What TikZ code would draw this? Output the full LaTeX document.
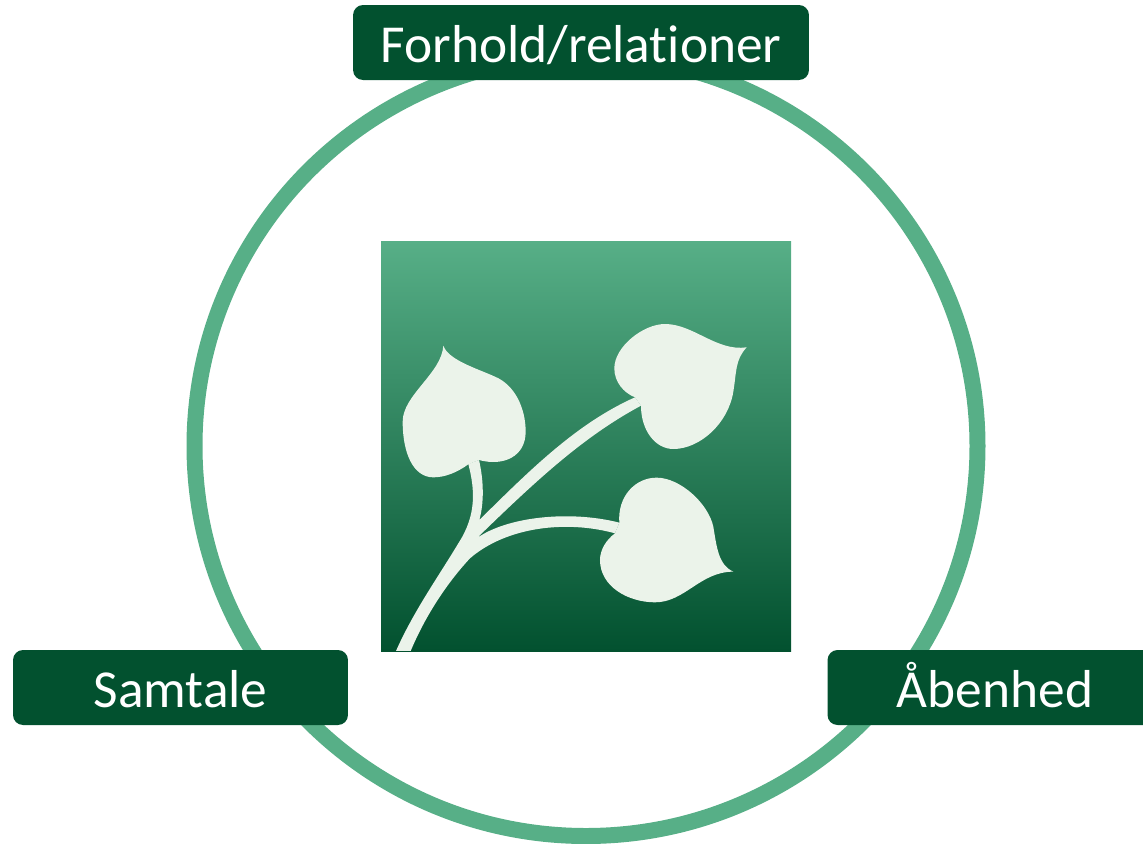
\documentclass[tikz,border=0pt]{standalone}
\usepackage{fontspec}
\setmainfont[Ligatures=NoCommon]{Carlito}
\definecolor{ringgreen}{HTML}{57AF87}
\definecolor{boxgreen}{HTML}{02512F}
\definecolor{leafwhite}{HTML}{EBF3EA}
\def\Cx{586}
\def\Cy{446}
\tikzset{
  labelbox/.style={fill=boxgreen, text=white, rounded corners=0.2cm, minimum height=1.5cm, inner sep=0pt, text height=1cm, text depth=0.2cm, font=\fontsize{30.4}{36}\selectfont},
  leaf/.style={fill=leafwhite, draw=none}
}

\begin{document}
\begin{tikzpicture}[x=0.02cm, y=-0.02cm]
\clip (0, 0) rectangle (1143, 843);

\draw[ringgreen, line width=0.32cm] (\Cx, \Cy) circle[x radius=391.5, y radius=390];

\shade[top color=ringgreen, bottom color=boxgreen] (381, 241) rectangle (791, 651);

% logo, traced in thirds of a pixel
\begin{scope}[shift={(380, 240)}, x=0.02cm/3, y=-0.02cm/3]
% stems
\fill[leaf] (48, 1233) .. controls (100, 1115) and (175, 1010) .. (235, 910)
  .. controls (290, 825) and (285, 750) .. (265, 672) -- (297, 660)
  .. controls (312, 725) and (312, 790) .. (298, 840)
  .. controls (450, 690) and (590, 550) .. (765, 472) -- (783, 497)
  .. controls (610, 590) and (470, 720) .. (290, 895)
  .. controls (380, 830) and (570, 810) .. (718, 848) -- (705, 880)
  .. controls (560, 840) and (380, 860) .. (270, 955)
  .. controls (200, 1030) and (135, 1130) .. (92, 1233) -- cycle;
% left leaf
\fill[leaf] (190, 317) .. controls (205, 360) and (290, 385) .. (345, 410)
  .. controls (405, 435) and (437, 505) .. (437, 575)
  .. controls (437, 650) and (370, 680) .. (297, 660) -- (265, 673)
  .. controls (230, 698) and (195, 712) .. (160, 712)
  .. controls (100, 712) and (68, 640) .. (68, 545)
  .. controls (68, 465) and (185, 400) .. (190, 317) -- cycle;
% upper right leaf
\fill[leaf] (1100, 322) .. controls (1010, 335) and (940, 252) .. (855, 252)
  .. controls (790, 252) and (703, 320) .. (703, 385)
  .. controls (703, 425) and (730, 458) .. (765, 472) -- (783, 497)
  .. controls (783, 570) and (825, 627) .. (880, 627)
  .. controls (960, 627) and (1045, 550) .. (1060, 455)
  .. controls (1070, 395) and (1065, 360) .. (1100, 322) -- cycle;
% lower right leaf
\fill[leaf] (1060, 995) .. controls (1015, 975) and (1010, 920) .. (1000, 860)
  .. controls (985, 790) and (900, 713) .. (830, 713)
  .. controls (765, 713) and (712, 770) .. (718, 848) -- (705, 880)
  .. controls (678, 900) and (660, 930) .. (660, 960)
  .. controls (660, 1040) and (745, 1087) .. (825, 1087)
  .. controls (915, 1087) and (960, 995) .. (1060, 995) -- cycle;
\end{scope}

\node[labelbox, minimum width=9.12cm] (forhold) at (581, 42.5) {Forhold/relationer};
\node[labelbox, minimum width=6.7cm] (samtale) at (180.5, 687.5) {Samtale};
\node[labelbox, minimum width=6.7cm] (aabenhed) at (995, 687.5) {Åbenhed};
\end{tikzpicture}
\end{document}
